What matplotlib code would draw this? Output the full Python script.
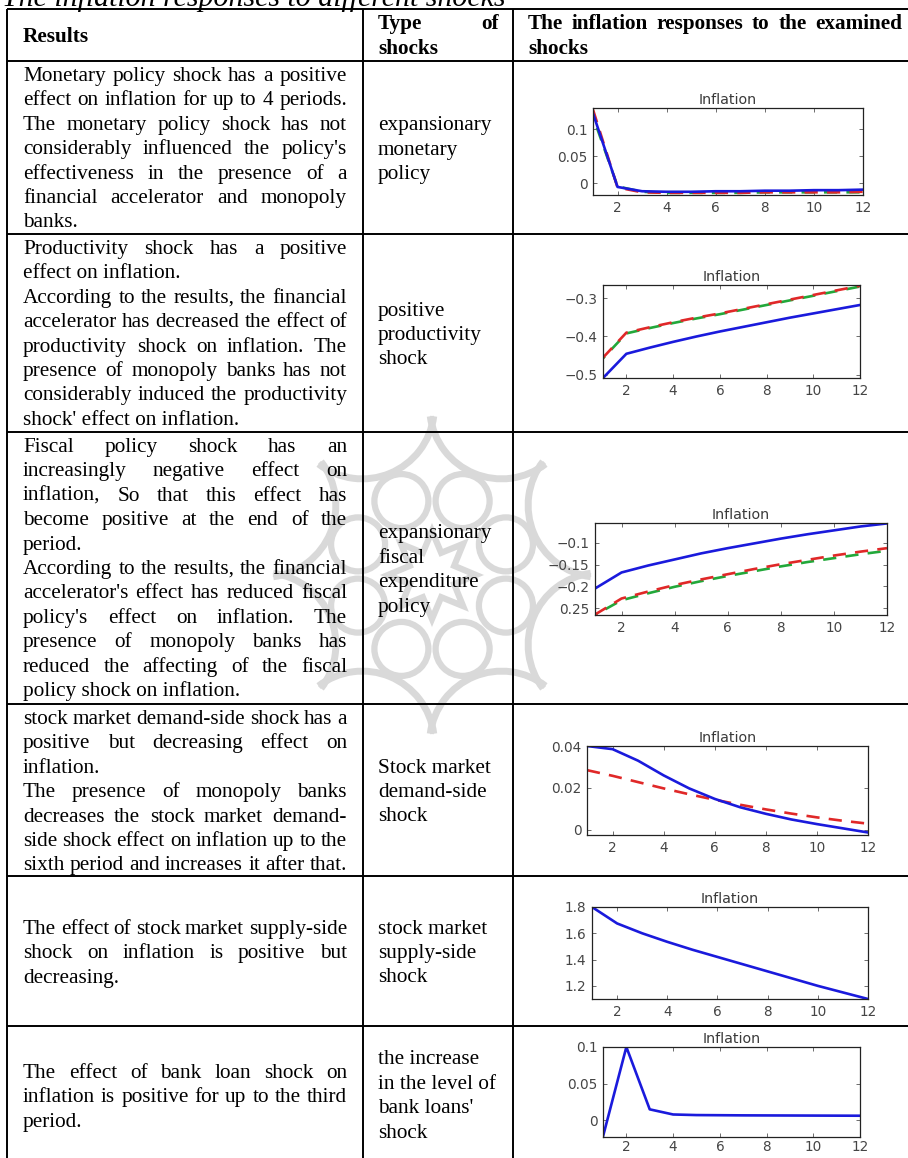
import matplotlib
matplotlib.use("Agg")
import matplotlib.pyplot as plt
import numpy as np
from matplotlib.patches import Circle, Polygon, Arc

# ---------------- data ----------------
periods = list(range(1, 13))
xticks = [2, 4, 6, 8, 10, 12]

monetary_blue = [0.130, -0.007, -0.015, -0.016, -0.016, -0.015, -0.015, -0.014, -0.014, -0.013, -0.013, -0.012]
monetary_red = [0.137, -0.008, -0.017, -0.018, -0.018, -0.018, -0.018, -0.017, -0.017, -0.017, -0.017, -0.016]
monetary_green = [0.124, -0.006, -0.016, -0.018, -0.018, -0.018, -0.018, -0.017, -0.017, -0.017, -0.017, -0.017]

productivity_blue = [-0.508, -0.445, -0.429, -0.414, -0.400, -0.387, -0.375, -0.363, -0.351, -0.340, -0.329, -0.318]
productivity_red = [-0.455, -0.390, -0.376, -0.363, -0.351, -0.340, -0.328, -0.316, -0.304, -0.292, -0.280, -0.268]
productivity_green = [-0.457, -0.392, -0.378, -0.365, -0.353, -0.342, -0.330, -0.318, -0.306, -0.294, -0.282, -0.270]

fiscal_blue = [-0.205, -0.168, -0.152, -0.138, -0.124, -0.112, -0.101, -0.090, -0.080, -0.071, -0.062, -0.055]
fiscal_red = [-0.265, -0.228, -0.212, -0.197, -0.184, -0.172, -0.160, -0.149, -0.139, -0.129, -0.120, -0.112]
fiscal_green = [-0.266, -0.232, -0.216, -0.201, -0.188, -0.176, -0.165, -0.154, -0.144, -0.135, -0.126, -0.118]

demand_blue = [0.0400, 0.0385, 0.0330, 0.0260, 0.0198, 0.0148, 0.0108, 0.0077, 0.0050, 0.0028, 0.0008, -0.0012]
demand_red = [0.0285, 0.0258, 0.0228, 0.0198, 0.0170, 0.0144, 0.0120, 0.0098, 0.0078, 0.0060, 0.0044, 0.0030]

supply_blue = [1.800, 1.675, 1.600, 1.535, 1.475, 1.420, 1.365, 1.310, 1.255, 1.200, 1.150, 1.100]

loan_blue = [-0.022, 0.100, 0.015, 0.008, 0.0072, 0.0070, 0.0068, 0.0067, 0.0066, 0.0065, 0.0064, 0.0063]

chart_title = "Inflation"
table_title = "The inflation responses to different shocks"
header_results = "Results"
header_type = ["Type of", "shocks"]
header_resp = ["The inflation responses to the examined", "shocks"]

# (text, justify)
results_rows = [
    [("Monetary policy shock has a positive", True),
     ("effect on inflation for up to 4 periods.", True),
     ("The monetary policy shock has not", True),
     ("considerably influenced the policy's", True),
     ("effectiveness in the presence of a", True),
     ("financial accelerator and monopoly", True),
     ("banks.", False)],
    [("Productivity shock has a positive", True),
     ("effect on inflation.", False),
     ("According to the results, the financial", True),
     ("accelerator has decreased the effect of", True),
     ("productivity shock on inflation. The", True),
     ("presence of monopoly banks has not", True),
     ("considerably induced the productivity", True),
     ("shock' effect on inflation.", False)],
    [("Fiscal policy shock has an", True),
     ("increasingly negative effect on", True),
     ("inflation, So that this effect has", True),
     ("become positive at the end of the", True),
     ("period.", False),
     ("According to the results, the financial", True),
     ("accelerator's effect has reduced fiscal", True),
     ("policy's effect on inflation. The", True),
     ("presence of monopoly banks has", True),
     ("reduced the affecting of the fiscal", True),
     ("policy shock on inflation.", False)],
    [("stock market demand-side shock has a", True),
     ("positive but decreasing effect on", True),
     ("inflation.", False),
     ("The presence of monopoly banks", True),
     ("decreases the stock market demand-", True),
     ("side shock effect on inflation up to the", True),
     ("sixth period and increases it after that.", True)],
    [("The effect of stock market supply-side", True),
     ("shock on inflation is positive but", True),
     ("decreasing.", False)],
    [("The effect of bank loan shock on", True),
     ("inflation is positive for up to the third", True),
     ("period.", False)],
]

type_rows = [
    ["expansionary", "monetary", "policy"],
    ["positive", "productivity", "shock"],
    ["expansionary", "fiscal", "expenditure", "policy"],
    ["Stock market", "demand-side", "shock"],
    ["stock market", "supply-side", "shock"],
    ["the increase", "in the level of", "bank loans'", "shock"],
]

# ---------------- layout ----------------
W, H = 908, 1158
DPI = 100
fig = plt.figure(figsize=(W / DPI, H / DPI), dpi=DPI)
fig.patch.set_facecolor("white")
tab = fig.add_axes([0, 0, 1, 1])
tab.set_xlim(0, W)
tab.set_ylim(H, 0)
tab.axis("off")
renderer = fig.canvas.get_renderer()

SERIF = "Liberation Serif"
FS = 15.3
LH = 24.4

# faint background watermark (rosette)
WM = "#d9d9d9"
cx, cy = 432, 575
for k in range(8):
    a = np.deg2rad(22.5 + 45 * k)
    tab.add_patch(Circle((cx + 80 * np.cos(a), cy + 80 * np.sin(a)), 27,
                         fill=False, ec=WM, lw=4.5, zorder=0))
for k in range(8):
    phi = 22.5 + 45 * k
    a = np.deg2rad(phi)
    tab.add_patch(Arc((cx + 182 * np.cos(a), cy + 182 * np.sin(a)), 144, 144,
                      angle=phi, theta1=120, theta2=240, ec=WM, lw=5, zorder=0))
star = []
for k in range(16):
    a = np.deg2rad(22.5 * k)
    r = 44 if k % 2 == 0 else 24
    star.append((cx + r * np.cos(a), cy + r * np.sin(a)))
tab.add_patch(Polygon(star, closed=True, fill=False, ec=WM, lw=4.5, zorder=0))

row_lines = [9, 61, 234, 432, 704, 876, 1026]
col_lines = [7, 363, 513]
for y in row_lines:
    tab.plot([col_lines[0], W], [y, y], color="black", lw=1.4, solid_capstyle="butt", zorder=2)
for x in col_lines:
    tab.plot([x, x], [row_lines[0], H], color="black", lw=1.4, solid_capstyle="butt", zorder=2)

def width_of(s, **kw):
    t = tab.text(0, 0, s, **kw)
    w = t.get_window_extent(renderer=renderer).width
    t.remove()
    return w

def draw_line(s, x0, x1, ybase, justify, **kw):
    if not justify or " " not in s:
        tab.text(x0, ybase, s, ha="left", va="baseline", zorder=3, **kw)
        return
    words = s.split(" ")
    ws = [width_of(w, **kw) for w in words]
    gap = (x1 - x0 - sum(ws)) / (len(words) - 1)
    x = x0
    for w, wd in zip(words, ws):
        tab.text(x, ybase, w, ha="left", va="baseline", zorder=3, **kw)
        x += wd + gap

body = dict(fontfamily=SERIF, fontsize=FS, color="black")
bold = dict(fontfamily=SERIF, fontsize=FS, color="black", fontweight="bold")

# title (partly cut off at the top)
tab.text(2, 6, table_title, ha="left", va="baseline", fontfamily=SERIF,
         fontsize=21.5, fontstyle="italic", color="black")

# header
BASE = 7
tab.text(23, 35 + BASE, header_results, ha="left", va="baseline", **bold)
draw_line(header_type[0], 378, 499, 22 + BASE, True, **bold)
tab.text(378, 47 + BASE, header_type[1], ha="left", va="baseline", **bold)
draw_line(header_resp[0], 528, 902, 22 + BASE, True, **bold)
tab.text(528, 47 + BASE, header_resp[1], ha="left", va="baseline", **bold)

# results column
first_centers = [74, 247, 445, 717, 927, 1071]
for lines, yc in zip(results_rows, first_centers):
    for i, (s, j) in enumerate(lines):
        draw_line(s, 23, 347, yc + i * LH + BASE, j, **body)

# type column, vertically centred in each row
row_bounds = row_lines[1:] + [1162]
for k, lines in enumerate(type_rows):
    top, bot = row_bounds[k], row_bounds[k + 1]
    mid = (top + bot) / 2
    n = len(lines)
    for i, s in enumerate(lines):
        yc = mid + (i - (n - 1) / 2) * LH
        tab.text(378, yc + BASE, s, ha="left", va="baseline", zorder=3, **body)

# ---------------- mini charts ----------------
BLUE = "#1a1adc"
RED = "#e02828"
GREEN = "#22a83a"
TICKC = "#454545"

def mini(box, ylim, yticks, yticklabels, xpad=4):
    x0, x1, y0, y1 = box
    ax = fig.add_axes([x0 / W, 1 - y1 / H, (x1 - x0) / W, (y1 - y0) / H])
    ax.set_xlim(1, 12)
    ax.set_ylim(*ylim)
    ax.set_xticks(xticks)
    ax.set_xticklabels([str(v) for v in xticks])
    ax.set_yticks(yticks)
    ax.set_yticklabels(yticklabels)
    ax.tick_params(direction="in", length=3, width=0.6, top=True, right=True,
                   labelsize=9.8, labelcolor=TICKC, color="#555555", pad=4)
    ax.tick_params(axis="x", pad=xpad)
    for sp in ax.spines.values():
        sp.set_linewidth(0.9)
        sp.set_color("#222222")
    ax.set_title(chart_title, fontsize=10.3, color="#3a3a3a", pad=3)
    ax.patch.set_alpha(0.0)
    return ax

LW = 1.9
dash_r = (0, (5, 3.5))
dash_g = (4, (5, 3.5))

ax = mini((593, 863, 108, 195), (-0.022, 0.14), [0, 0.05, 0.1], ["0", "0.05", "0.1"])
ax.plot(periods, monetary_green, color=GREEN, lw=LW, ls=dash_g)
ax.plot(periods, monetary_red, color=RED, lw=LW, ls=dash_r)
ax.plot(periods, monetary_blue, color=BLUE, lw=LW)

ax = mini((603, 860, 285, 378), (-0.508, -0.266), [-0.5, -0.4, -0.3], ["\u22120.5", "\u22120.4", "\u22120.3"])
ax.plot(periods, productivity_green, color=GREEN, lw=LW, ls=dash_g)
ax.plot(periods, productivity_red, color=RED, lw=LW, ls=dash_r)
ax.plot(periods, productivity_blue, color=BLUE, lw=LW)

ax = mini((595, 887, 523, 615), (-0.266, -0.054), [-0.25, -0.2, -0.15, -0.1],
          ["0.25", "\u22120.2", "\u22120.15", "\u22120.1"])
ax.plot(periods, fiscal_green, color=GREEN, lw=LW, ls=dash_g)
ax.plot(periods, fiscal_red, color=RED, lw=LW, ls=dash_r)
ax.plot(periods, fiscal_blue, color=BLUE, lw=LW)

ax = mini((587, 868, 746, 835), (-0.0024, 0.040), [0, 0.02, 0.04], ["0", "0.02", "0.04"])
ax.plot(periods, demand_red, color=RED, lw=LW, ls=dash_r)
ax.plot(periods, demand_blue, color=BLUE, lw=LW)

ax = mini((592, 868, 907, 999), (1.1, 1.8), [1.2, 1.4, 1.6, 1.8], ["1.2", "1.4", "1.6", "1.8"])
ax.plot(periods, supply_blue, color=BLUE, lw=LW)

ax = mini((603, 860, 1047, 1137), (-0.0227, 0.1), [0, 0.05, 0.1], ["0", "0.05", "0.1"], xpad=2)
ax.plot(periods, loan_blue, color=BLUE, lw=LW)

fig.savefig("out.png", dpi=DPI, facecolor="white")
